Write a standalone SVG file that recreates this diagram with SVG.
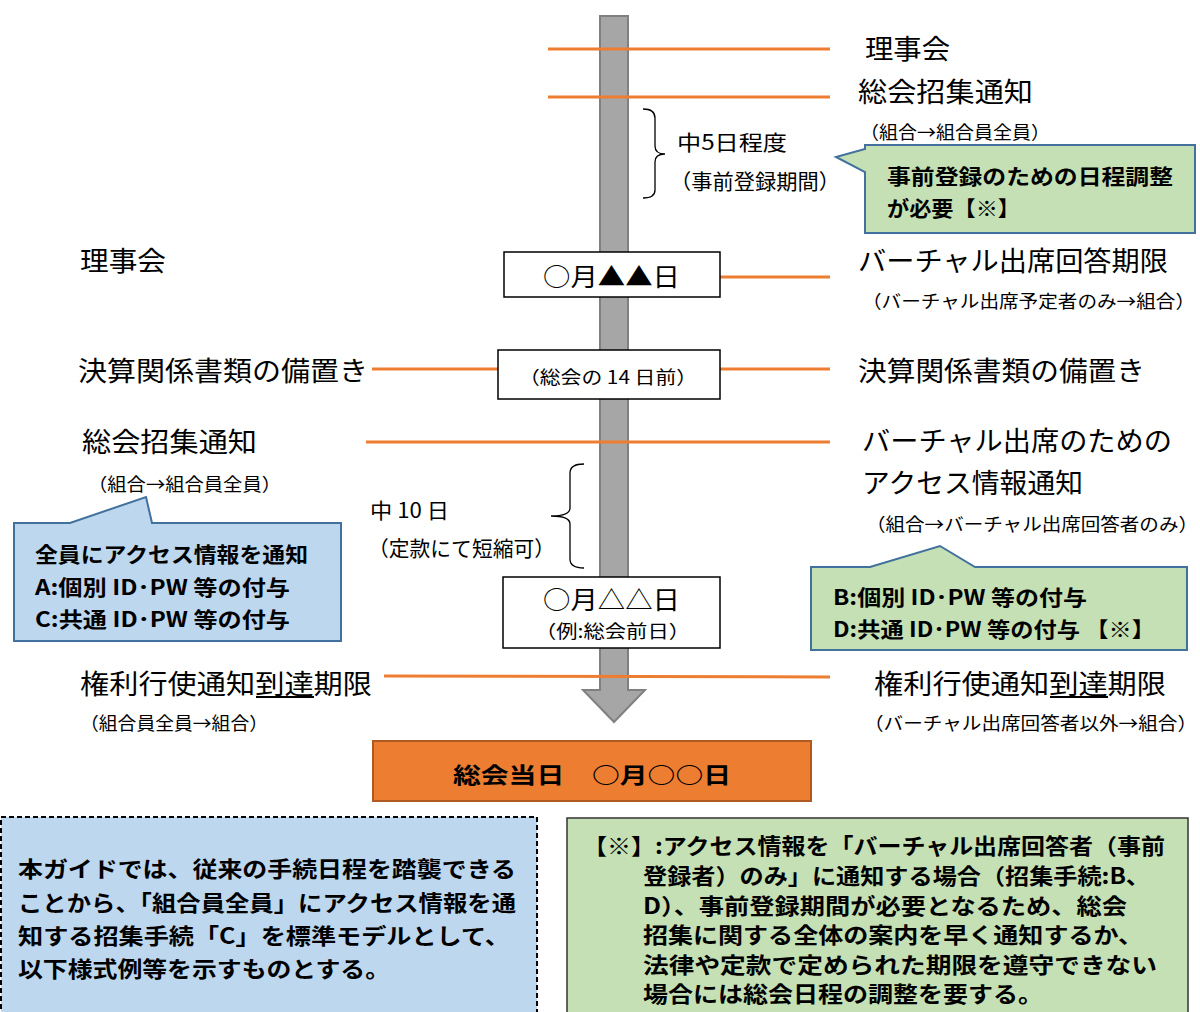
<svg xmlns="http://www.w3.org/2000/svg" width="1200" height="1012" viewBox="0 0 1200 1012">
<style>
text{font-family:"Noto Sans CJK JP","Noto Sans",sans-serif;fill:#000;dominant-baseline:central}
.l{font-size:27px}
.s{font-size:18px}
.m{font-size:21px}
.b{font-size:21px;font-weight:700}
.bb{font-size:22px;font-weight:700}
.or{stroke:#ed7d31;stroke-width:3;fill:none}
.box{fill:#fff;stroke:#000;stroke-width:1.5}
.br{fill:none;stroke:#000;stroke-width:1.3}
.ul{stroke:#000;stroke-width:2}
</style>
<rect width="1200" height="1012" fill="#fff"/>
<g id="timeline">
<polygon points="600,16 628,16 628,690 645,690 614,722 583,690 600,690" fill="#a6a6a6" stroke="#808080" stroke-width="2"/>
</g>
<g id="connectors">
<line class="or" x1="548" y1="49" x2="830" y2="49"/>
<line class="or" x1="548" y1="97" x2="830" y2="97"/>
<line class="or" x1="720" y1="277" x2="830" y2="277"/>
<line class="or" x1="372" y1="369" x2="498" y2="369"/>
<line class="or" x1="720" y1="369" x2="830" y2="369"/>
<line class="or" x1="366" y1="442" x2="830" y2="442"/>
<line class="or" x1="384" y1="676" x2="830" y2="677"/>
</g>
<g id="brace1">
<path class="br" d="M643,109 Q655,109 655,118 V146 Q655,154 665,154 Q655,154 655,162 V190 Q655,198 643,198"/>
<text class="m" x="677" y="141" textLength="110" lengthAdjust="spacingAndGlyphs">中5日程度</text>
<text class="m" x="670" y="180" textLength="170" lengthAdjust="spacingAndGlyphs">（事前登録期間）</text>
</g>
<g id="brace2">
<path class="br" d="M584,464 Q570,464 570,473 V508 Q570,516 551,516 Q570,516 570,524 V559 Q570,568 584,568"/>
<text class="m" x="370" y="509" textLength="79" lengthAdjust="spacingAndGlyphs">中 10 日</text>
<text class="m" x="368" y="547" textLength="187" lengthAdjust="spacingAndGlyphs">（定款にて短縮可）</text>
</g>
<g id="r-rijikai"><text class="l" x="865" y="47" textLength="85" lengthAdjust="spacingAndGlyphs">理事会</text></g>
<g id="r-shoshu">
<text class="l" x="858" y="90" textLength="175" lengthAdjust="spacingAndGlyphs">総会招集通知</text>
<text class="s" x="860" y="131" textLength="190" lengthAdjust="spacingAndGlyphs">（組合→組合員全員）</text>
</g>
<g id="callout-top">
<path d="M865,145 H1195 V233 H865 V172 L836,157 L865,149 Z" fill="#c5e0b4" stroke="#41719c" stroke-width="2"/>
<text class="b" x="887" y="175" textLength="286" lengthAdjust="spacingAndGlyphs">事前登録のための日程調整</text>
<text class="b" x="887" y="207" textLength="133" lengthAdjust="spacingAndGlyphs">が必要【※】</text>
</g>
<g id="l-rijikai"><text class="l" x="80" y="259" textLength="86" lengthAdjust="spacingAndGlyphs">理事会</text></g>
<g id="date1">
<rect class="box" x="504" y="252" width="216" height="45"/>
<text x="543" y="275" style="font-size:25px" textLength="137" lengthAdjust="spacingAndGlyphs">○月▲▲日</text>
</g>
<g id="r-kaito">
<text class="l" x="858" y="259" textLength="310" lengthAdjust="spacingAndGlyphs">バーチャル出席回答期限</text>
<text class="s" x="862" y="300" textLength="333" lengthAdjust="spacingAndGlyphs">（バーチャル出席予定者のみ→組合）</text>
</g>
<g id="date2">
<rect class="box" x="498" y="350" width="222" height="49"/>
<text class="s" x="519" y="376" textLength="178" lengthAdjust="spacingAndGlyphs">（総会の 14 日前）</text>
</g>
<g id="l-bichi"><text class="l" x="78" y="369" textLength="290" lengthAdjust="spacingAndGlyphs">決算関係書類の備置き</text></g>
<g id="r-bichi"><text class="l" x="858" y="369" textLength="287" lengthAdjust="spacingAndGlyphs">決算関係書類の備置き</text></g>
<g id="l-shoshu">
<text class="l" x="82" y="440" textLength="175" lengthAdjust="spacingAndGlyphs">総会招集通知</text>
<text class="s" x="88" y="483" textLength="193" lengthAdjust="spacingAndGlyphs">（組合→組合員全員）</text>
</g>
<g id="r-access">
<text class="l" x="862" y="439" textLength="310" lengthAdjust="spacingAndGlyphs">バーチャル出席のための</text>
<text class="l" x="862" y="481" textLength="221" lengthAdjust="spacingAndGlyphs">アクセス情報通知</text>
<text class="s" x="866" y="523" textLength="332" lengthAdjust="spacingAndGlyphs">（組合→バーチャル出席回答者のみ）</text>
</g>
<g id="callout-left">
<path d="M14,523 H70 L146,497 L152,523 H341 V641 H14 Z" fill="#bdd7ee" stroke="#41719c" stroke-width="2"/>
<text class="b" x="35" y="553" textLength="273" lengthAdjust="spacingAndGlyphs">全員にアクセス情報を通知</text>
<text class="b" x="35" y="586" textLength="255" lengthAdjust="spacingAndGlyphs">A:個別 ID･PW 等の付与</text>
<text class="b" x="35" y="618" textLength="255" lengthAdjust="spacingAndGlyphs">C:共通 ID･PW 等の付与</text>
</g>
<g id="date3">
<rect class="box" x="503" y="577" width="217" height="71"/>
<text x="543" y="598" style="font-size:25px" textLength="137" lengthAdjust="spacingAndGlyphs">○月△△日</text>
<text class="s" x="535" y="630" textLength="155" lengthAdjust="spacingAndGlyphs">（例:総会前日）</text>
</g>
<g id="callout-right">
<path d="M811,567 H870 L940,546 L975,567 H1187 V650 H811 Z" fill="#c5e0b4" stroke="#41719c" stroke-width="2"/>
<text class="b" x="833" y="596" textLength="254" lengthAdjust="spacingAndGlyphs">B:個別 ID･PW 等の付与</text>
<text class="b" x="833" y="628" textLength="322" lengthAdjust="spacingAndGlyphs">D:共通 ID･PW 等の付与 【※】</text>
</g>
<g id="l-kenri">
<text class="l" x="80" y="682" textLength="292" lengthAdjust="spacingAndGlyphs">権利行使通知到達期限</text>
<line class="ul" x1="256" y1="697" x2="314" y2="697"/>
<text class="s" x="80" y="722" textLength="188" lengthAdjust="spacingAndGlyphs">（組合員全員→組合）</text>
</g>
<g id="r-kenri">
<text class="l" x="874" y="682" textLength="292" lengthAdjust="spacingAndGlyphs">権利行使通知到達期限</text>
<line class="ul" x1="1050" y1="697" x2="1108" y2="697"/>
<text class="s" x="864" y="722" textLength="333" lengthAdjust="spacingAndGlyphs">（バーチャル出席回答者以外→組合）</text>
</g>
<g id="sokai">
<rect x="373" y="741" width="438" height="60" fill="#ed7d31" stroke="#ae5a21" stroke-width="2"/>
<text class="bb" x="453" y="773" textLength="278" lengthAdjust="spacingAndGlyphs">総会当日　○月○○日</text>
</g>
<g id="note-left">
<rect x="1" y="817" width="536" height="200" fill="#bdd7ee" stroke="#000" stroke-width="2" stroke-dasharray="5,3"/>
<text class="bb" x="18" y="867" textLength="498" lengthAdjust="spacingAndGlyphs">本ガイドでは、従来の手続日程を踏襲できる</text>
<text class="bb" x="18" y="901" textLength="498" lengthAdjust="spacingAndGlyphs">ことから、「組合員全員」にアクセス情報を通</text>
<text class="bb" x="18" y="934" textLength="492" lengthAdjust="spacingAndGlyphs">知する招集手続「C」を標準モデルとして、</text>
<text class="bb" x="18" y="967" textLength="372" lengthAdjust="spacingAndGlyphs">以下様式例等を示すものとする。</text>
</g>
<g id="note-right">
<rect x="567" y="818" width="621" height="200" fill="#c5e0b4" stroke="#333" stroke-width="1.5"/>
<text class="bb" x="583" y="844" textLength="582" lengthAdjust="spacingAndGlyphs">【※】:アクセス情報を「バーチャル出席回答者（事前</text>
<text class="bb" x="643" y="874" textLength="507" lengthAdjust="spacingAndGlyphs">登録者）のみ」に通知する場合（招集手続:B、</text>
<text class="bb" x="643" y="904" textLength="484" lengthAdjust="spacingAndGlyphs">D）、事前登録期間が必要となるため、総会</text>
<text class="bb" x="643" y="933" textLength="500" lengthAdjust="spacingAndGlyphs">招集に関する全体の案内を早く通知するか、</text>
<text class="bb" x="643" y="963" textLength="514" lengthAdjust="spacingAndGlyphs">法律や定款で定められた期限を遵守できない</text>
<text class="bb" x="643" y="992" textLength="400" lengthAdjust="spacingAndGlyphs">場合には総会日程の調整を要する。</text>
</g>
</svg>
